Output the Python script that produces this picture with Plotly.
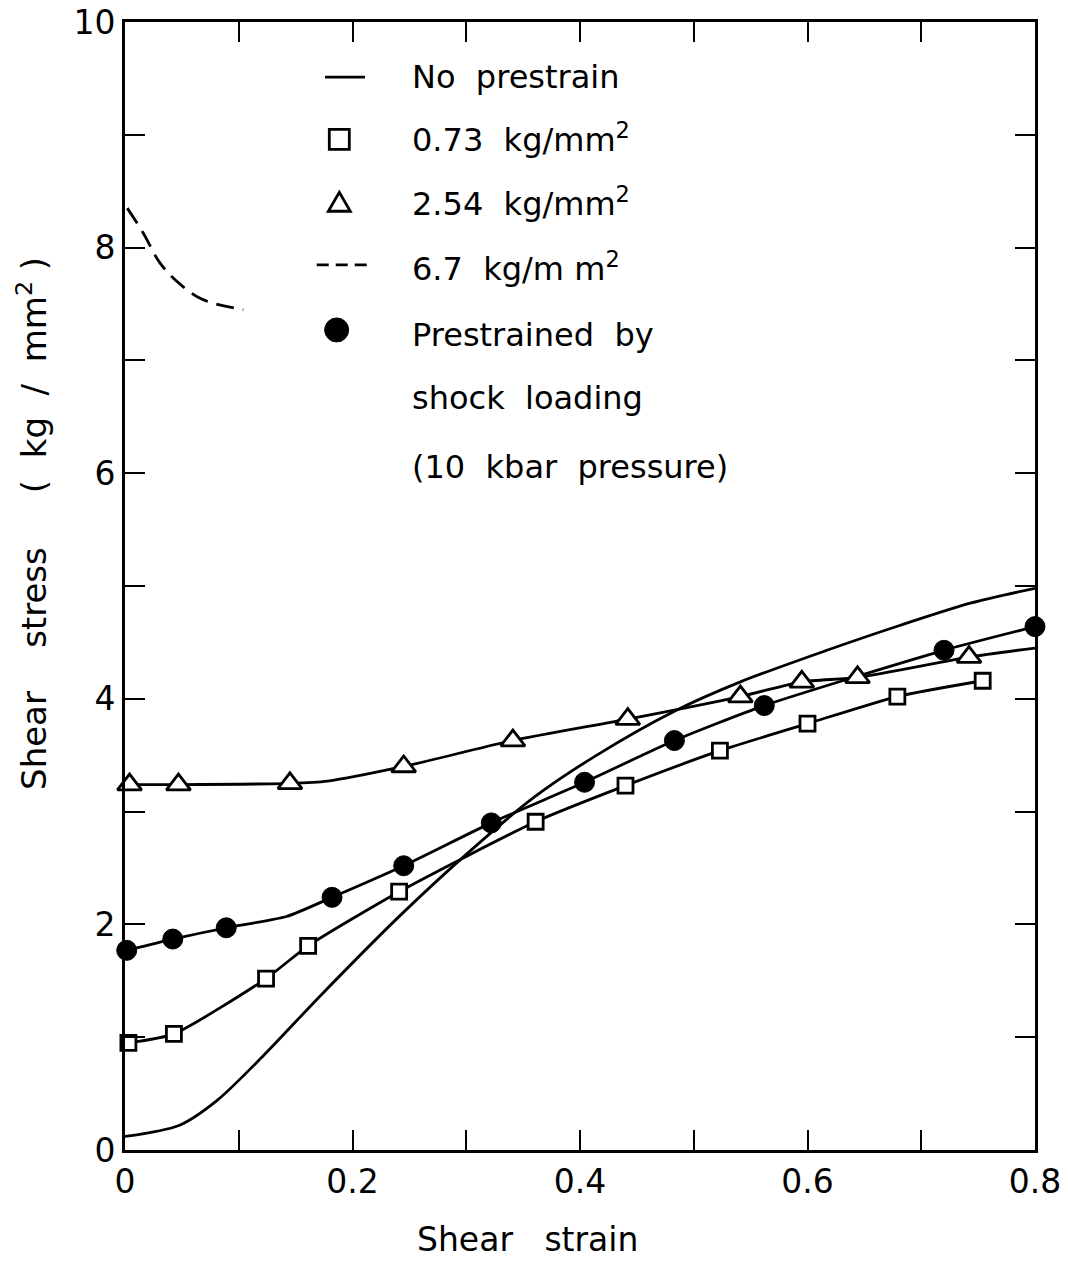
import plotly.graph_objects as go

# ---------------- data ----------------
# No prestrain (solid line, no markers)
none_x = [0.0, 0.048, 0.081, 0.122, 0.172, 0.242, 0.301, 0.360, 0.413, 0.483, 0.541, 0.617, 0.681, 0.744, 0.800]
none_y = [0.12, 0.22, 0.44, 0.84, 1.37, 2.08, 2.63, 3.13, 3.49, 3.89, 4.15, 4.43, 4.65, 4.85, 4.98]

# 0.73 kg/mm^2 (open squares)
sq_x = [0.003, 0.043, 0.124, 0.161, 0.241, 0.361, 0.440, 0.523, 0.600, 0.679, 0.754]
sq_y = [0.95, 1.03, 1.52, 1.81, 2.29, 2.91, 3.23, 3.54, 3.78, 4.02, 4.16]
sq_line_x = [0.003, 0.043, 0.124, 0.161, 0.241, 0.361, 0.440, 0.523, 0.600, 0.679, 0.754]
sq_line_y = [0.95, 1.03, 1.52, 1.81, 2.29, 2.91, 3.23, 3.54, 3.78, 4.02, 4.16]

# 2.54 kg/mm^2 (open triangles)
tri_x = [0.004, 0.047, 0.145, 0.245, 0.341, 0.442, 0.541, 0.595, 0.644, 0.742]
tri_y = [3.24, 3.24, 3.25, 3.40, 3.63, 3.82, 4.02, 4.15, 4.19, 4.37]
tri_line_x = [0.004, 0.047, 0.145, 0.178, 0.245, 0.341, 0.442, 0.541, 0.595, 0.644, 0.742, 0.800]
tri_line_y = [3.24, 3.24, 3.25, 3.27, 3.40, 3.63, 3.82, 4.02, 4.15, 4.19, 4.37, 4.45]

# 6.7 kg/mm^2 (dashed line)
d67_x = [0.002, 0.016, 0.031, 0.048, 0.066, 0.084, 0.104]
d67_y = [8.35, 8.13, 7.86, 7.68, 7.55, 7.49, 7.45]

# Prestrained by shock loading (filled circles)
sh_x = [0.0015, 0.042, 0.089, 0.182, 0.245, 0.322, 0.404, 0.483, 0.562, 0.720, 0.800]
sh_y = [1.77, 1.87, 1.97, 2.24, 2.52, 2.90, 3.26, 3.63, 3.94, 4.43, 4.64]
sh_line_x = [0.0015, 0.042, 0.089, 0.142, 0.182, 0.245, 0.322, 0.404, 0.483, 0.562, 0.720, 0.800]
sh_line_y = [1.77, 1.87, 1.97, 2.07, 2.24, 2.52, 2.90, 3.26, 3.63, 3.94, 4.43, 4.64]

x_tickvals = [0.0, 0.1, 0.2, 0.3, 0.4, 0.5, 0.6, 0.7, 0.8]
x_ticktext = ["0", "", "0.2", "", "0.4", "", "0.6", "", "0.8"]
y_tickvals = [0, 1, 2, 3, 4, 5, 6, 7, 8, 9, 10]
y_ticktext = ["0", "", "2", "", "4", "", "6", "", "8", "", "10"]

legend_labels = [
    "No  prestrain",
    "0.73  kg/mm<sup>2</sup>",
    "2.54  kg/mm<sup>2</sup>",
    "6.7  kg/m m<sup>2</sup>",
    "Prestrained  by",
    "shock  loading",
    "(10  kbar  pressure)",
]

# ---------------- figure ----------------
FONT = "DejaVu Sans"
LW = 2.8
fig = go.Figure()

fig.add_trace(go.Scatter(x=none_x, y=none_y, mode="lines",
                         line=dict(color="black", width=LW, shape="spline", smoothing=0.8),
                         showlegend=False))
fig.add_trace(go.Scatter(x=sq_line_x, y=sq_line_y, mode="lines",
                         line=dict(color="black", width=LW, shape="spline", smoothing=0.6),
                         showlegend=False))
fig.add_trace(go.Scatter(x=tri_line_x, y=tri_line_y, mode="lines",
                         line=dict(color="black", width=LW, shape="spline", smoothing=0.6),
                         showlegend=False))
fig.add_trace(go.Scatter(x=sh_line_x, y=sh_line_y, mode="lines",
                         line=dict(color="black", width=LW, shape="spline", smoothing=0.6),
                         showlegend=False))
fig.add_trace(go.Scatter(x=d67_x, y=d67_y, mode="lines",
                         line=dict(color="black", width=LW, shape="spline", dash="18px,9px"),
                         showlegend=False))

fig.add_trace(go.Scatter(x=sq_x, y=sq_y, mode="markers",
                         marker=dict(symbol="square", size=15, color="white",
                                     line=dict(color="black", width=2.8)),
                         showlegend=False, cliponaxis=False))
fig.add_trace(go.Scatter(x=tri_x, y=tri_y, mode="markers",
                         marker=dict(symbol="triangle-up", size=21, color="white",
                                     line=dict(color="black", width=2.8)),
                         showlegend=False, cliponaxis=False))
fig.add_trace(go.Scatter(x=sh_x, y=sh_y, mode="markers",
                         marker=dict(symbol="circle", size=20, color="black",
                                     line=dict(color="black", width=1)),
                         showlegend=False, cliponaxis=False))

# ---------------- manual legend ----------------
shapes = []
shapes.append(dict(type="line", xref="paper", yref="paper", x0=0.2198, x1=0.2637,
                   y0=0.9512, y1=0.9512, line=dict(color="black", width=2.8)))
shapes.append(dict(type="rect", xref="paper", yref="paper", xsizemode="pixel", ysizemode="pixel",
                   xanchor=0.2355, yanchor=0.8960, x0=-10, x1=10, y0=-10, y1=10,
                   fillcolor="white", line=dict(color="black", width=2.8)))
shapes.append(dict(type="path", xref="paper", yref="paper", xsizemode="pixel", ysizemode="pixel",
                   xanchor=0.2355, yanchor=0.8393, path="M -11,-8 L 11,-8 L 0,11 Z",
                   fillcolor="white", line=dict(color="black", width=2.8)))
shapes.append(dict(type="line", xref="paper", yref="paper", x0=0.2107, x1=0.2656,
                   y0=0.7846, y1=0.7846, line=dict(color="black", width=2.8, dash="12px,7px")))
shapes.append(dict(type="circle", xref="paper", yref="paper", xsizemode="pixel", ysizemode="pixel",
                   xanchor=0.2326, yanchor=0.7270, x0=-12, x1=12, y0=-12, y1=12,
                   fillcolor="black", line=dict(color="black", width=1)))

legend_y = [0.9512, 0.8972, 0.8407, 0.7831, 0.7225, 0.6667, 0.6058]
annotations = []
for lab, yy in zip(legend_labels, legend_y):
    annotations.append(dict(text=lab, xref="paper", yref="paper", x=0.3132, y=yy,
                            xanchor="left", yanchor="middle", showarrow=False,
                            font=dict(family=FONT, size=32, color="black")))

annotations.append(dict(text="Shear   strain", xref="paper", yref="paper", x=0.4418, y=-0.0790,
                        xanchor="center", yanchor="middle", showarrow=False,
                        font=dict(family=FONT, size=33, color="black")))
annotations.append(dict(text="Shear    stress     (  kg  /  mm<sup>2</sup> )", xref="paper", yref="paper",
                        x=-0.1022, y=0.5559, xanchor="center", yanchor="middle", textangle=-90,
                        showarrow=False, font=dict(family=FONT, size=34, color="black")))

# The page body has an 8px default margin: the figure is offset by it, so the
# margins are reduced to land the plot area where the reference has it.
fig.update_layout(
    width=1060, height=1254,
    margin=dict(l=117, r=33, t=14, b=112, autoexpand=False),
    plot_bgcolor="white", paper_bgcolor="white",
    showlegend=False,
    shapes=shapes, annotations=annotations,
    font=dict(family=FONT, color="black"),
)
fig.update_xaxes(range=[0, 0.8], tickvals=x_tickvals, ticktext=x_ticktext,
                 ticks="inside", ticklen=20, tickwidth=1.5, tickcolor="black",
                 showline=True, linewidth=3, linecolor="black", mirror="ticks",
                 showgrid=False, zeroline=False, ticklabeloverflow="allow",
                 automargin=False,
                 tickfont=dict(family=FONT, size=33, color="black"))
fig.update_yaxes(range=[0, 10], tickvals=y_tickvals, ticktext=y_ticktext,
                 ticks="inside", ticklen=20, tickwidth=1.5, tickcolor="black",
                 showline=True, linewidth=3, linecolor="black", mirror="ticks",
                 showgrid=False, zeroline=False, ticklabeloverflow="allow",
                 automargin=False,
                 tickfont=dict(family=FONT, size=33, color="black"))

fig.write_html("out.html")
